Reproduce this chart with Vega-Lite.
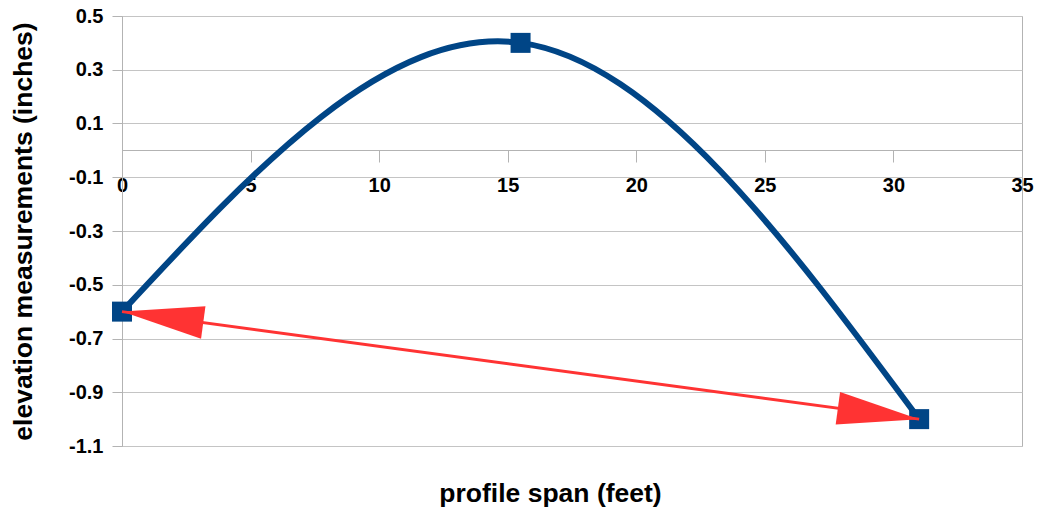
{
  "$schema": "https://vega.github.io/schema/vega-lite/v6.json",
  "width": 900,
  "height": 430,
  "autosize": {"type": "none"},
  "padding": {"left": 122, "top": 16, "right": 17, "bottom": 62},
  "background": "white",
  "config": {
    "view": {"stroke": "#b3b3b3", "strokeWidth": 1},
    "locale": {"number": {"decimal": ".", "thousands": ",", "grouping": [3], "currency": ["$", ""], "minus": "-"}},
    "axis": {
      "labelFont": "Liberation Sans",
      "labelFontWeight": "bold",
      "labelFontSize": 20,
      "labelColor": "#000000",
      "titleFont": "Liberation Sans",
      "titleFontWeight": "bold",
      "titleFontSize": 26.5,
      "titleColor": "#000000",
      "domainColor": "#b3b3b3",
      "tickColor": "#b3b3b3",
      "gridColor": "#c4c4c4",
      "labelFlush": false,
      "labelOverlap": false
    }
  },
  "datasets": {
    "profile": [
      {"span": 0, "elev": -0.6},
      {"span": 15.5, "elev": 0.4},
      {"span": 31, "elev": -1.0}
    ],
    "arrow": [
      {"span": 0, "elev": -0.6, "span2": 31, "elev2": -1.0}
    ],
    "heads": [
      {"span": 1.58, "elev": -0.6204, "dir": "left"},
      {"span": 29.42, "elev": -0.9796, "dir": "right"}
    ]
  },
  "encoding": {
    "x": {
      "field": "span",
      "type": "quantitative",
      "scale": {"domain": [0, 35], "nice": false, "zero": false},
      "axis": {
        "title": "profile span (feet)",
        "orient": "bottom",
        "offset": -296,
        "values": [0, 5, 10, 15, 20, 25, 30, 35],
        "grid": false,
        "tickSize": 12,
        "labelPadding": 13,
        "titleX": 428,
        "titleY": 351,
        "titleAlign": "center",
        "titleBaseline": "alphabetic"
      }
    },
    "y": {
      "field": "elev",
      "type": "quantitative",
      "scale": {"domain": [-1.1, 0.5], "nice": false, "zero": false},
      "axis": {
        "title": "elevation measurements (inches)",
        "values": [-1.1, -0.9, -0.7, -0.5, -0.3, -0.1, 0.1, 0.3, 0.5],
        "format": ".1f",
        "grid": true,
        "tickSize": 10,
        "labelPadding": 9,
        "titleX": -99,
        "titleAngle": -90,
        "titleAlign": "center",
        "titleBaseline": "middle"
      }
    }
  },
  "layer": [
    {
      "data": {"name": "profile"},
      "mark": {"type": "line", "interpolate": "natural", "color": "#004586", "strokeWidth": 6}
    },
    {
      "data": {"name": "profile"},
      "mark": {"type": "point", "shape": "square", "filled": true, "size": 400, "color": "#004586", "opacity": 1}
    },
    {
      "data": {"name": "arrow"},
      "mark": {"type": "rule", "color": "#ff3333", "strokeWidth": 3},
      "encoding": {
        "x2": {"field": "span2"},
        "y2": {"field": "elev2"}
      }
    },
    {
      "data": {"name": "heads"},
      "mark": {"type": "point", "filled": true, "size": 6724, "angle": 7.7, "color": "#ff3333", "opacity": 1, "strokeWidth": 0},
      "encoding": {
        "shape": {
          "field": "dir",
          "type": "nominal",
          "scale": {"domain": ["left", "right"], "range": ["M-1,0L1,-0.4L1,0.4Z", "M1,0L-1,-0.4L-1,0.4Z"]},
          "legend": null
        }
      }
    }
  ]
}
